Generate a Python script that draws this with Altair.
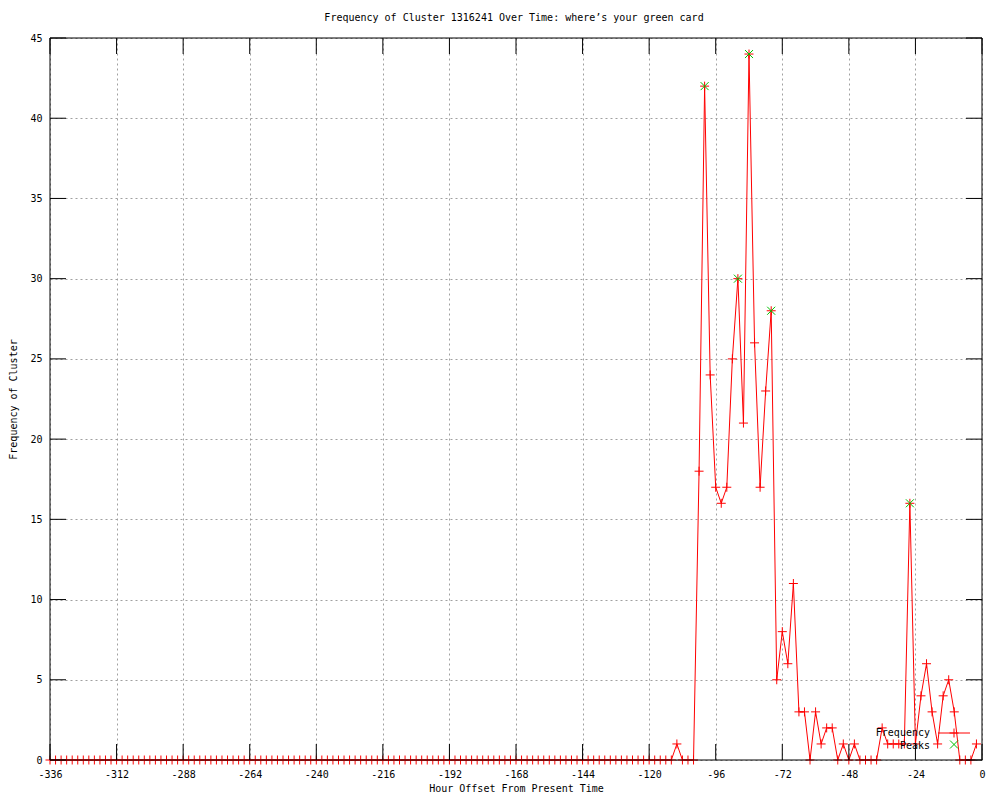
import altair as alt
import pandas as pd

# ---------------- data ----------------
hours = list(range(-336, 0, 2))  # one sample every 2 hours, -336 .. -2
freq = [
    0, 0, 0, 0, 0, 0, 0, 0, 0, 0, 0, 0,      # -336 .. -314
    0, 0, 0, 0, 0, 0, 0, 0, 0, 0, 0, 0,      # -312 .. -290
    0, 0, 0, 0, 0, 0, 0, 0, 0, 0, 0, 0,      # -288 .. -266
    0, 0, 0, 0, 0, 0, 0, 0, 0, 0, 0, 0,      # -264 .. -242
    0, 0, 0, 0, 0, 0, 0, 0, 0, 0, 0, 0,      # -240 .. -218
    0, 0, 0, 0, 0, 0, 0, 0, 0, 0, 0, 0,      # -216 .. -194
    0, 0, 0, 0, 0, 0, 0, 0, 0, 0, 0, 0,      # -192 .. -170
    0, 0, 0, 0, 0, 0, 0, 0, 0, 0, 0, 0,      # -168 .. -146
    0, 0, 0, 0, 0, 0, 0, 0, 0, 0, 0, 0,      # -144 .. -122
    0, 0, 0, 0, 0, 1, 0, 0, 0, 18, 42, 24,   # -120 .. -98
    17, 16, 17, 25, 30, 21, 44, 26, 17, 23, 28, 5,  # -96 .. -74
    8, 6, 11, 3, 3, 0, 3, 1, 2, 2, 0, 1,     # -72 .. -50
    0, 1, 0, 0, 0, 0, 2, 1, 1, 1, 1, 16,     # -48 .. -26
    1, 4, 6, 3, 1, 4, 5, 3, 0, 0, 0, 1,      # -24 .. -2
]
peak_hours = [-100, -88, -84, -76, -26]
peak_freq = [42, 30, 44, 28, 16]

x_ticks = [-336, -312, -288, -264, -240, -216, -192, -168, -144, -120, -96, -72, -48, -24, 0]
y_ticks = [0, 5, 10, 15, 20, 25, 30, 35, 40, 45]

title_text = "Frequency of Cluster 1316241 Over Time: where\u2019s your green card"
x_title = "Hour Offset From Present Time"
y_title = "Frequency of Cluster"
legend_labels = ["Frequency", "Peaks"]

# ---------------- styling ----------------
W, H = 932, 722
FONT = "DejaVu Sans Mono"
FS = 10
RED = "#ff0000"
GREEN = "#00c000"
GRID = "#a0a0a0"
PLUS = "M-1,0L1,0M0,-1L0,1"
CROSS = "M-1,-1L1,1M-1,1L1,-1"
TICK = 16

df = pd.DataFrame({"hour": hours, "freq": freq})
peaks = pd.DataFrame({"hour": peak_hours, "freq": peak_freq})
xt = pd.DataFrame({"hour": x_ticks})
yt = pd.DataFrame({"freq": y_ticks})
one = pd.DataFrame({"k": [0]})

xenc = alt.X(
    "hour:Q",
    scale=alt.Scale(domain=[-336, 0], nice=False, zero=False),
    axis=alt.Axis(
        values=x_ticks, labelExpr="'' + datum.value", title=x_title,
        grid=True, gridColor=GRID, gridDash=[2, 3], gridWidth=1, gridOpacity=1,
        ticks=False, tickSize=0, domain=False,
        labelFont=FONT, labelFontSize=FS, labelColor="black", labelPadding=14,
        labelBaseline="middle", labelFlush=False, labelOverlap=False, labelBound=False,
        titleFont=FONT, titleFontSize=FS, titleFontWeight="normal", titleColor="black",
        titleX=W / 2, titleY=28, titleBaseline="middle", titleAlign="center",
        zindex=0,
    ),
)
yenc = alt.Y(
    "freq:Q",
    scale=alt.Scale(domain=[0, 45], nice=False, zero=True),
    axis=alt.Axis(
        values=y_ticks, title=y_title,
        grid=True, gridColor=GRID, gridDash=[2, 3], gridWidth=1, gridOpacity=1,
        ticks=False, tickSize=0, domain=False,
        labelFont=FONT, labelFontSize=FS, labelColor="black", labelPadding=8,
        labelFlush=False, labelOverlap=False, labelBound=False,
        titleFont=FONT, titleFontSize=FS, titleFontWeight="normal", titleColor="black",
        titleX=-37, titleY=H / 2, titleAngle=270, titleBaseline="middle", titleAlign="center",
        zindex=0,
    ),
)

line = alt.Chart(df).mark_line(color=RED, strokeWidth=1).encode(x=xenc, y=yenc)
pts = alt.Chart(df).mark_point(
    shape=PLUS, size=81, filled=False, stroke=RED, strokeWidth=1, opacity=1
).encode(x=xenc, y=yenc)
pk = alt.Chart(peaks).mark_point(
    shape=CROSS, size=64, filled=False, stroke=GREEN, strokeWidth=1, opacity=1
).encode(x=xenc, y=yenc)

# chart title drawn as a text mark above the plot area
ttl = alt.Chart(one).mark_text(
    text=title_text, font=FONT, fontSize=FS, align="center", baseline="middle", color="black"
).encode(x=alt.value(W / 2 - 2), y=alt.value(-20))

# legend (gnuplot style: label then sample)
lg_t1 = alt.Chart(one).mark_text(
    text=legend_labels[0], font=FONT, fontSize=FS, align="right", baseline="middle", color="black"
).encode(x=alt.value(880), y=alt.value(695))
lg_l1 = alt.Chart(one).mark_rule(color=RED, strokeWidth=1).encode(
    x=alt.value(888), x2=alt.value(920), y=alt.value(695))
lg_p1 = alt.Chart(one).mark_point(
    shape=PLUS, size=81, filled=False, stroke=RED, strokeWidth=1, opacity=1
).encode(x=alt.value(904), y=alt.value(695))
lg_t2 = alt.Chart(one).mark_text(
    text=legend_labels[1], font=FONT, fontSize=FS, align="right", baseline="middle", color="black"
).encode(x=alt.value(880), y=alt.value(708))
lg_p2 = alt.Chart(one).mark_point(
    shape=CROSS, size=64, filled=False, stroke=GREEN, strokeWidth=1, opacity=1
).encode(x=alt.value(904), y=alt.value(706.5))

# inward ticks on all four borders
bt = alt.Chart(xt).mark_rule(color="black", strokeWidth=1).encode(
    x=xenc, y=alt.value(H), y2=alt.value(H - TICK))
tt = alt.Chart(xt).mark_rule(color="black", strokeWidth=1).encode(
    x=xenc, y=alt.value(0), y2=alt.value(TICK))
lt = alt.Chart(yt).mark_rule(color="black", strokeWidth=1).encode(
    y=yenc, x=alt.value(0), x2=alt.value(TICK))
rt = alt.Chart(yt).mark_rule(color="black", strokeWidth=1).encode(
    y=yenc, x=alt.value(W), x2=alt.value(W - TICK))

border = alt.Chart(one).mark_rect(filled=False, color="black", strokeWidth=1).encode(
    x=alt.value(0), x2=alt.value(W), y=alt.value(0), y2=alt.value(H))

chart = alt.layer(
    line, pts, pk, ttl, lg_t1, lg_l1, lg_p1, lg_t2, lg_p2, bt, tt, lt, rt, border
).properties(
    width=W, height=H,
    autosize=alt.AutoSizeParams(type="none"),
    padding={"left": 42, "top": 30, "right": 8, "bottom": 32},
    background="white",
).configure_view(stroke="transparent")

chart.save("out.html", embed_options={"renderer": "svg", "actions": False})
